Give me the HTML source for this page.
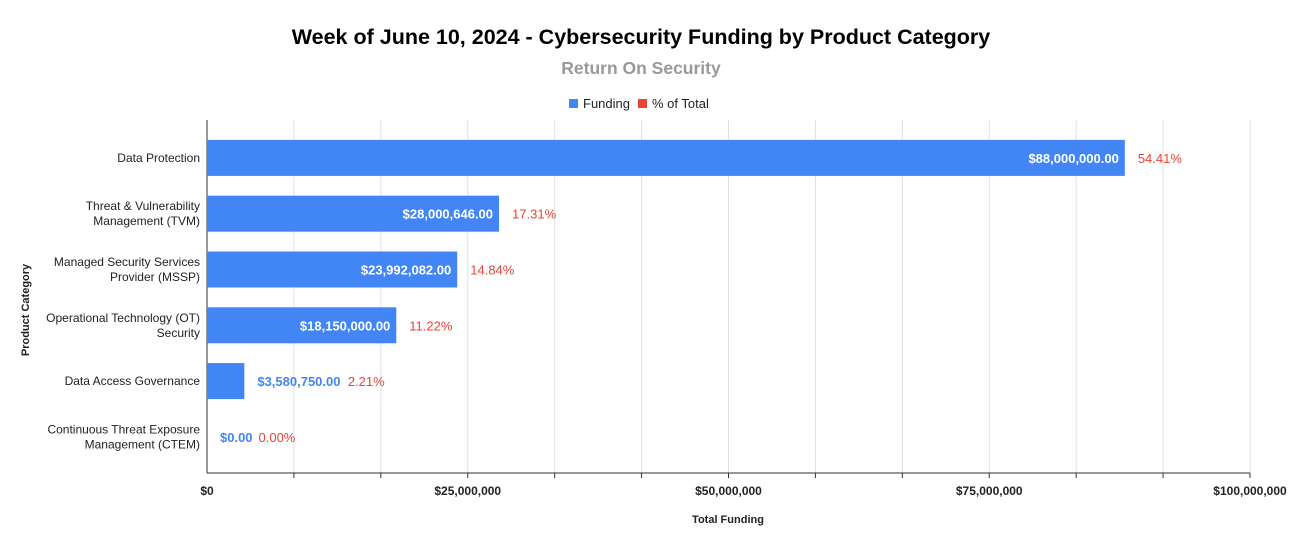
<!DOCTYPE html>
<html><head><meta charset="utf-8"><style>
body{margin:0;background:#fff;font-family:"Liberation Sans",Arial,sans-serif}
svg text{font-family:"Liberation Sans",Arial,sans-serif}
</style></head><body>
<svg id="c" width="1292" height="551">
<text x="641" y="44" text-anchor="middle" font-size="21.5" font-weight="bold" fill="#000">Week of June 10, 2024 - Cybersecurity Funding by Product Category</text>
<text x="641" y="74" text-anchor="middle" font-size="17.5" font-weight="bold" fill="#999">Return On Security</text>
<g>
<rect x="569" y="99" width="9" height="9" fill="#4285f4"/>
<text x="583" y="108" font-size="13" fill="#222">Funding</text>
<rect x="638" y="99" width="9" height="9" fill="#ea4335"/>
<text x="652" y="108" font-size="13" fill="#222">% of Total</text>
</g>
<text transform="translate(29,310) rotate(-90)" text-anchor="middle" font-size="11" font-weight="bold" fill="#222">Product Category</text>
<text x="728" y="523" text-anchor="middle" font-size="11" font-weight="bold" fill="#222">Total Funding</text>
<g id="grid"></g><g id="bars"></g><g id="labels"></g>
</svg>
<script>
const categories=[["Data Protection"],["Threat & Vulnerability","Management (TVM)"],["Managed Security Services","Provider (MSSP)"],["Operational Technology (OT)","Security"],["Data Access Governance"],["Continuous Threat Exposure","Management (CTEM)"]];
const funding=[88000000,28000646,23992082,18150000,3580750,0];
const fundingLabels=["$88,000,000.00","$28,000,646.00","$23,992,082.00","$18,150,000.00","$3,580,750.00","$0.00"];
const percentLabels=["54.41%","17.31%","14.84%","11.22%","2.21%","0.00%"];
const tickValues=[0,25000000,50000000,75000000,100000000];
const tickLabels=["$0","$25,000,000","$50,000,000","$75,000,000","$100,000,000"];
const NS="http://www.w3.org/2000/svg";
const X0=207,X1=1250,MAX=100000000,TOP=130,BAND=55.8,AXY=473;
const xs=v=>X0+(v/MAX)*(X1-X0);
const yc=i=>TOP+BAND*(i+0.5);
function mk(t,a,p){const e=document.createElementNS(NS,t);for(const k in a)e.setAttribute(k,a[k]);p.appendChild(e);return e;}
const g=document.getElementById('grid'),b=document.getElementById('bars'),l=document.getElementById('labels');
for(let k=1;k<=12;k++){const x=xs(MAX*k/12);
const gl=mk('line',{x1:x,x2:x,y1:120,y2:AXY,stroke:'#e0e0e0'},g);


const tk=mk('line',{x1:x,x2:x,y1:AXY,y2:AXY+5,stroke:'#333'},g);

}
mk('line',{x1:X0,x2:X0,y1:120,y2:AXY,stroke:'#333'},g);
mk('line',{x1:X0,x2:X1,y1:AXY,y2:AXY,stroke:'#333'},g);
tickValues.forEach((v,i)=>{const t=mk('text',{x:xs(v),y:495,'text-anchor':'middle','font-size':12,'font-weight':'bold',fill:'#222'},l);t.textContent=tickLabels[i];

});
categories.forEach((c,i)=>{const y=yc(i);
const t=mk('text',{x:200,'text-anchor':'end','font-size':12,fill:'#222'},l);


c.forEach((s,j)=>{const ts=mk('tspan',{x:200,y:y+4+(j-(c.length-1)/2)*15},t);ts.textContent=s;});
const w=xs(funding[i])-X0;
const r=mk('rect',{x:X0,y:y-18,width:w,height:36,fill:'#4285f4'},b);


const inside=w>120;
const fl=mk('text',{x:inside?X0+w-6:X0+w+13,y:y+5,'text-anchor':inside?'end':'start','font-size':13,'font-weight':'bold',fill:inside?'#fff':'#4285f4'},l);
fl.textContent=fundingLabels[i];


const px=inside?X0+w+13:X0+w+13+fundingLabels[i].length*6.5+6;
const pl=mk('text',{x:px,y:y+5,'font-size':13,fill:'#ea4335'},l);
pl.textContent=percentLabels[i];

});
</script>
</body></html>
